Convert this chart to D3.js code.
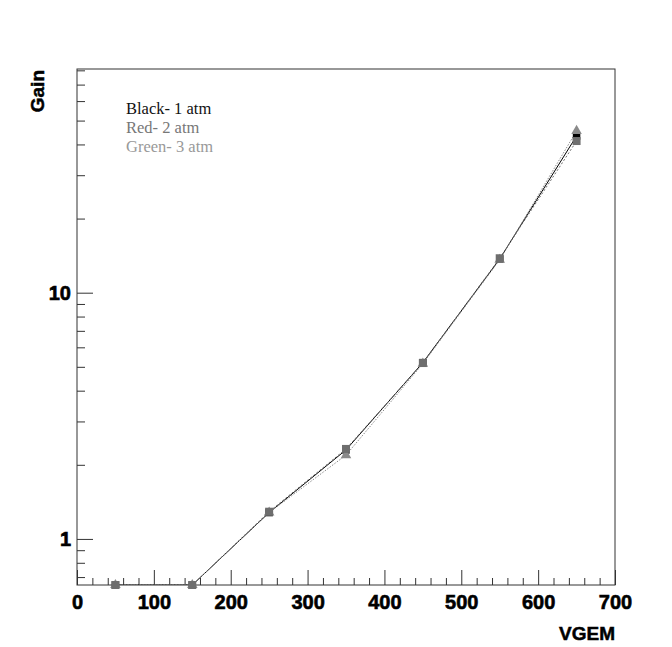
<!DOCTYPE html>
<html>
<head>
<meta charset="utf-8">
<script src="https://cdn.jsdelivr.net/npm/d3@7"></script>
<style>
  html, body { margin: 0; padding: 0; background: #fff; }
  svg { display: block; }
</style>
</head>
<body>
<div id="chart"></div>
<script>
// ---- data ----
const vgem = [50, 150, 250, 350, 450, 550, 650];
const gain1atm = [0.65, 0.65, 1.28, 2.30, 5.20, 13.7, 43.3];
const gain2atm = [0.65, 0.65, 1.29, 2.32, 5.18, 13.8, 41.3];
const gain3atm = [0.65, 0.65, 1.28, 2.19, 5.15, 13.6, 45.4];
const seriesNames = ["Black- 1 atm", "Red- 2 atm", "Green- 3 atm"];
const xMajorTicks = [0, 100, 200, 300, 400, 500, 600, 700];
const yMajorTicks = [1, 10];
const yMinorTicks = [0.7, 0.8, 0.9, 2, 3, 4, 5, 6, 7, 8, 9, 20, 30, 40, 50, 60, 70, 80];

const W = 672, H = 647;
const L = 77, R = 615, T = 69, B = 585;

const svg = d3.select("#chart").append("svg").attr("width", W).attr("height", H);

const x = d3.scaleLinear().domain([0, 700]).range([L, R]);
const y = d3.scaleLog().domain([0.65, 81]).range([B, T]);

const axisColor = "#333";

// frame
svg.append("rect").attr("x", L).attr("y", T).attr("width", R - L).attr("height", B - T)
  .attr("fill", "none").attr("stroke", axisColor).attr("stroke-width", 1);

// x minor ticks
const xMinor = d3.range(0, 701, 20).filter(v => v % 100 !== 0);
const gxm = svg.append("g").attr("transform", `translate(0,${B})`)
  .call(d3.axisBottom(x).tickValues(xMinor).tickSize(-7).tickFormat(""));
// x major ticks
const gx = svg.append("g").attr("transform", `translate(0,${B})`)
  .call(d3.axisBottom(x).tickValues(xMajorTicks).tickSize(-15).tickPadding(10).tickFormat(d3.format("d")));

// y minor
const gym = svg.append("g").attr("transform", `translate(${L},0)`)
  .call(d3.axisLeft(y).tickValues(yMinorTicks).tickSize(-8).tickFormat(""));
// y major
const gy = svg.append("g").attr("transform", `translate(${L},0)`)
  .call(d3.axisLeft(y).tickValues(yMajorTicks).tickSize(-16).tickPadding(6).tickFormat(d3.format("d")));

[gxm, gx, gym, gy].forEach(g => {
  g.select(".domain").remove();
  g.selectAll(".tick line").attr("stroke", axisColor).attr("stroke-width", 1);
});
[gx, gy].forEach(g => {
  g.selectAll(".tick text")
    .attr("fill", "#000")
    .attr("stroke", "#000").attr("stroke-width", 0.6)
    .style("font-family", "'Liberation Sans', Arial, sans-serif")
    .style("font-weight", "bold")
    .style("font-size", "20px");
});
gy.selectAll(".tick text").attr("dy", "0.35em");

// axis titles
svg.append("text")
  .attr("x", R).attr("y", 640)
  .attr("text-anchor", "end")
  .attr("stroke", "#000").attr("stroke-width", 0.5)
  .style("font-family", "'Liberation Sans', Arial, sans-serif")
  .style("font-weight", "bold").style("font-size", "19px")
  .text("VGEM");

svg.append("text")
  .attr("transform", `translate(44,${T + 1}) rotate(-90)`)
  .attr("text-anchor", "end")
  .attr("stroke", "#000").attr("stroke-width", 0.5)
  .style("font-family", "'Liberation Sans', Arial, sans-serif")
  .style("font-weight", "bold").style("font-size", "19px")
  .text("Gain");

// clip
svg.append("clipPath").attr("id", "clip").append("rect")
  .attr("x", L).attr("y", T - 10).attr("width", R - L).attr("height", B - T + 10);

const series = [
  { name: seriesNames[0], values: gain1atm, color: "#000", dash: null, symbol: d3.symbolSquare, size: 56 },
  { name: seriesNames[2], values: gain3atm, color: "#8a8a8a", dash: "1.5,1.5", symbol: d3.symbolTriangle, size: 48 },
  { name: seriesNames[1], values: gain2atm, color: "#6e6e6e", dash: "2,2", symbol: d3.symbolSquare, size: 64 }
];

const line = d3.line().x((d, i) => x(vgem[i])).y(d => y(d));

const plot = svg.append("g").attr("clip-path", "url(#clip)");
series.forEach(s => {
  plot.append("path").datum(s.values)
    .attr("d", line)
    .attr("fill", "none")
    .attr("stroke", s.color)
    .attr("stroke-width", 1)
    .attr("stroke-dasharray", s.dash);
});
series.forEach(s => {
  svg.append("g").selectAll("path").data(s.values).join("path")
    .attr("transform", (d, i) => `translate(${x(vgem[i])},${y(d)})`)
    .attr("d", d3.symbol().type(s.symbol).size(s.size))
    .attr("fill", s.color);
});

// legend
const legendColors = ["#111", "#777", "#999"];
svg.append("g").selectAll("text").data(seriesNames).join("text")
  .attr("x", 126)
  .attr("y", (d, i) => 114 + i * 19)
  .attr("fill", (d, i) => legendColors[i])
  .style("font-family", "'Liberation Serif', 'Times New Roman', serif")
  .style("font-size", "16.5px")
  .text(d => d);
</script>
</body>
</html>
